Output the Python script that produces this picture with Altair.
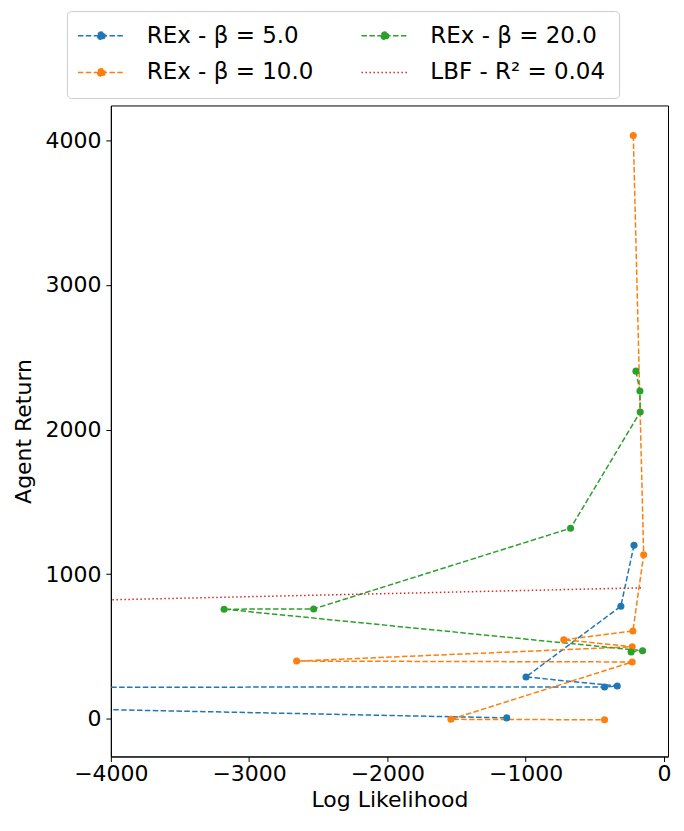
import altair as alt
import pandas as pd

# ---- data ----
S5 = "REx - β = 5.0"
S10 = "REx - β = 10.0"
S20 = "REx - β = 20.0"
SLBF = "LBF - R² = 0.04"

blue_x = [-216, -311, -997, -337, -429, -11700, -1136]
blue_y = [1200, 778, 288, 226, 219, 214, 5]

orange_x = [-221, -146, -224, -724, -229, -2656, -229, -1540, -429]
orange_y = [4034, 1133, 606, 546, 497, 398, 392, -5, -8]

green_x = [-202, -173, -171, -675, -2533, -3181, -154, -237]
green_y = [2404, 2266, 2121, 1317, 759, 757, 470, 461]

lbf_x = [-11700, -146]
lbf_y = [656, 905]

x_ticks = [-4000, -3000, -2000, -1000, 0]
y_ticks = [0, 1000, 2000, 3000, 4000]

rows = []
for name, xs, ys in [(S5, blue_x, blue_y), (S10, orange_x, orange_y),
                     (S20, green_x, green_y), (SLBF, lbf_x, lbf_y)]:
    for i, (a, b) in enumerate(zip(xs, ys)):
        rows.append({"series": name, "x": a, "y": b, "i": i})
df = pd.DataFrame(rows)

legend_order = [S5, S10, S20, SLBF]
colors = ["#1f77b4", "#ff7f0e", "#2ca02c", "#d62728"]
fills = ["#1f77b4", "#ff7f0e", "#2ca02c", "transparent"]
dashes = [[5.5, 2.4], [5.5, 2.4], [5.5, 2.4], [1.5, 2.5]]
DOT = "M-2.5,0H2.5M-0.4,0A0.4,0.4,0,1,0,0.4,0A0.4,0.4,0,1,0,-0.4,0Z"
PLAIN = "M-2.5,0H2.5"
shapes = [DOT, DOT, DOT, PLAIN]

FONT = "DejaVu Sans"

xscale = alt.Scale(domain=[-4000, 30], nice=False, zero=False)
yscale = alt.Scale(domain=[-262, 4242], nice=False, zero=False)

xenc = alt.X("x:Q", scale=xscale,
             axis=alt.Axis(title="Log Likelihood", values=x_ticks, format="d",
                           labelFlush=False, labelPadding=2.5, titlePadding=5))
yenc = alt.Y("y:Q", scale=yscale,
             axis=alt.Axis(title="Agent Return", values=y_ticks, format="d",
                           labelFlush=False, labelPadding=5, titlePadding=9))

legend = alt.Legend(
    orient="none", legendX=-44, legendY=-94.5, columns=2, title=None,
    values=legend_order,
    symbolSize=353, symbolStrokeWidth=1.5, symbolOffset=10, symbolOpacity=1,
    labelFont=FONT, labelFontSize=23, labelColor="black", labelOffset=34,
    strokeColor="#cccccc", fillColor="white", cornerRadius=4, padding=13,
    rowPadding=13, columnPadding=45, labelLimit=400,
)

base = alt.Chart(df)

lines = base.mark_line(strokeWidth=1.5, clip=True).encode(
    x=xenc, y=yenc,
    stroke=alt.Stroke("series:N", scale=alt.Scale(domain=legend_order, range=colors), legend=legend),
    strokeDash=alt.StrokeDash("series:N", scale=alt.Scale(domain=legend_order, range=dashes), legend=legend),
    order="i:Q",
    detail="series:N",
)

points = base.transform_filter(alt.datum.series != SLBF).mark_point(
    filled=True, size=50, opacity=1, clip=True, shape="circle",
).encode(
    x=xenc, y=yenc,
    fill=alt.Fill("series:N", scale=alt.Scale(domain=legend_order, range=fills), legend=legend),
)

legend_shapes = base.transform_filter("false").mark_point().encode(
    x=xenc, y=yenc,
    shape=alt.Shape("series:N", scale=alt.Scale(domain=legend_order, range=shapes), legend=legend),
)

chart = alt.layer(lines, points, legend_shapes).properties(
    width=558, height=652,
    padding={"top": 2, "left": 5, "right": 5, "bottom": 5},
).configure_view(
    stroke="black", strokeWidth=1
).configure_axis(
    grid=False, domainColor="black", tickColor="black", domainWidth=1,
    tickSize=5, labelFont=FONT, labelFontSize=22, labelColor="black",
    titleFont=FONT, titleFontSize=22, titleFontWeight="normal", titleColor="black",
)

chart.save("out.html", embed_options={"renderer": "svg", "actions": False})
